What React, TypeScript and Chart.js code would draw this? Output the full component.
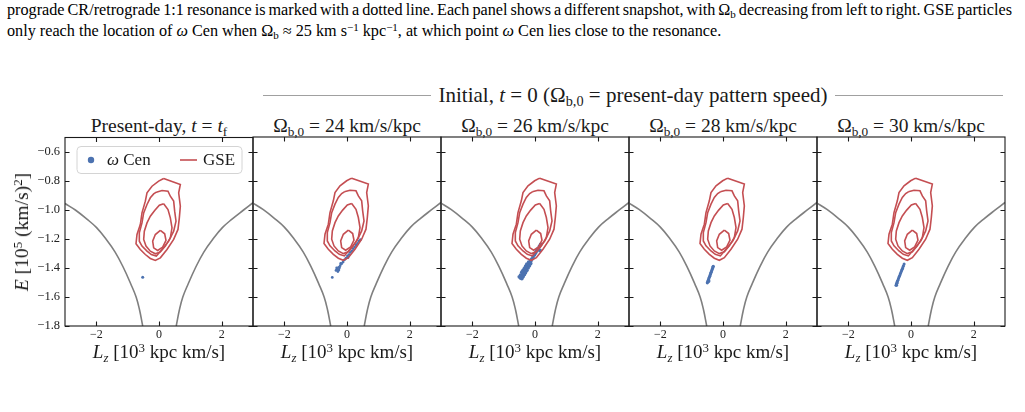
import React, { useEffect, useRef } from "react";
import { Chart, registerables } from "chart.js";

Chart.register(...registerables);

type Pt = [number, number];

// ---- axis limits and ticks ----
const LZ_MIN = -3;
const LZ_MAX = 3;
const E_MIN = -1.8;
const E_MAX = -0.5;
const LZ_TICKS = [-2, 0, 2];
const E_TICKS = [-1.8, -1.6, -1.4, -1.2, -1.0, -0.8, -0.6];

// ---- resonance curves (Lz, E) ----
const resonanceRetro: Pt[] = [
  [-3.0, -0.955], [-2.67, -1.0], [-2.3, -1.063], [-2.0, -1.12], [-1.71, -1.195],
  [-1.4, -1.29], [-1.13, -1.4], [-0.9, -1.51], [-0.73, -1.6], [-0.62, -1.69], [-0.52, -1.8],
];
const resonancePro: Pt[] = [
  [0.55, -1.8], [0.65, -1.69], [0.76, -1.6], [0.93, -1.51], [1.16, -1.4], [1.43, -1.29],
  [1.74, -1.195], [2.03, -1.12], [2.33, -1.063], [2.7, -1.0], [3.0, -0.95],
];

// ---- GSE density contours (Lz, E) ----
const gseOuter: Pt[] = [
  [0.149, -0.783], [0.681, -0.824], [0.628, -0.882], [0.681, -0.974], [0.649, -1.054],
  [0.606, -1.134], [0.468, -1.203], [0.255, -1.272], [0.043, -1.33], [-0.117, -1.348],
  [-0.277, -1.334], [-0.436, -1.307], [-0.596, -1.272], [-0.734, -1.233], [-0.702, -1.169],
  [-0.596, -1.1], [-0.543, -1.02], [-0.436, -0.939], [-0.383, -0.882], [-0.223, -0.836],
  [-0.011, -0.801], [0.149, -0.783],
];
const gseMid: Pt[] = [
  [-0.085, -0.877], [0.096, -0.866], [0.287, -0.87], [0.362, -0.905], [0.468, -0.939],
  [0.5, -1.008], [0.543, -1.077], [0.468, -1.146], [0.309, -1.215], [0.096, -1.272],
  [-0.085, -1.318], [-0.245, -1.307], [-0.383, -1.284], [-0.543, -1.249], [-0.628, -1.215],
  [-0.628, -1.157], [-0.543, -1.089], [-0.489, -1.02], [-0.383, -0.962], [-0.277, -0.916],
  [-0.17, -0.889], [-0.085, -0.877],
];
const gseInner: Pt[] = [
  [0.149, -0.957], [0.287, -0.997], [0.362, -1.054], [0.415, -1.123], [0.362, -1.192],
  [0.202, -1.249], [0.043, -1.289], [-0.117, -1.302], [-0.277, -1.284], [-0.415, -1.249],
  [-0.489, -1.203], [-0.468, -1.146], [-0.383, -1.089], [-0.277, -1.043], [-0.138, -1.003],
  [0.011, -0.967], [0.149, -0.957],
];
const gseCore: Pt[] = [
  [0.043, -1.141], [0.181, -1.164], [0.223, -1.21], [0.117, -1.256], [-0.043, -1.279],
  [-0.17, -1.261], [-0.202, -1.215], [-0.117, -1.169], [0.043, -1.141],
];

// ---- omega Cen particles per snapshot (Lz, E) ----
const omegaCenPresent: Pt[] = [[-0.52, -1.463]];
const omegaCenB24: Pt[] = [
  [-0.47, -1.466], [-0.35, -1.418], [-0.29, -1.425], [-0.26, -1.414], [-0.33, -1.401],
  [-0.31, -1.41], [-0.264, -1.397], [-0.218, -1.385], [-0.171, -1.371], [-0.125, -1.36],
  [-0.079, -1.345], [-0.033, -1.334], [0.014, -1.319], [0.06, -1.309], [0.106, -1.294],
  [0.153, -1.283], [0.199, -1.268], [0.245, -1.257], [0.291, -1.242], [0.338, -1.232],
  [0.384, -1.217], [0.43, -1.206], [-0.24, -1.4], [-0.2, -1.37], [0.03, -1.33],
];
const omegaCenB26: Pt[] = [
  [-0.46, -1.469], [-0.42, -1.455], [-0.383, -1.441], [-0.345, -1.428], [-0.3, -1.412],
  [-0.262, -1.398], [-0.223, -1.384], [-0.178, -1.368], [-0.14, -1.354], [-0.102, -1.34],
  [-0.063, -1.326], [-0.018, -1.31], [0.02, -1.296], [0.058, -1.283], [0.097, -1.269],
  [0.142, -1.253], [0.18, -1.239],
  [-0.5, -1.462], [-0.42, -1.474], [-0.46, -1.45], [-0.38, -1.46], [-0.42, -1.43],
  [-0.34, -1.445], [-0.385, -1.42], [-0.305, -1.432], [-0.34, -1.405], [-0.26, -1.417],
  [-0.3, -1.39], [-0.22, -1.4], [-0.26, -1.375], [-0.18, -1.385], [-0.14, -1.37],
  [-0.2, -1.36], [0.16, -1.28],
];
const omegaCenB28: Pt[] = [
  [-0.5, -1.503], [-0.485, -1.494], [-0.47, -1.485], [-0.455, -1.476], [-0.44, -1.467],
  [-0.425, -1.458], [-0.41, -1.449], [-0.395, -1.44], [-0.38, -1.431], [-0.365, -1.422],
  [-0.35, -1.413], [-0.335, -1.404], [-0.32, -1.395], [-0.31, -1.389], [-0.47, -1.495],
  [-0.45, -1.49],
];
const omegaCenB30: Pt[] = [
  [-0.48, -1.519], [-0.465, -1.51], [-0.45, -1.502], [-0.435, -1.493], [-0.42, -1.485],
  [-0.405, -1.477], [-0.39, -1.468], [-0.375, -1.46], [-0.36, -1.452], [-0.345, -1.443],
  [-0.33, -1.435], [-0.315, -1.427], [-0.3, -1.418], [-0.285, -1.41], [-0.27, -1.402],
  [-0.255, -1.393], [-0.24, -1.385], [-0.22, -1.374], [-0.46, -1.52], [-0.44, -1.505],
];

// pattern speeds of the initial-condition panels (km/s/kpc)
const patternSpeeds = [24, 26, 28, 30];
const omegaSnapshots: Pt[][] = [omegaCenPresent, omegaCenB24, omegaCenB26, omegaCenB28, omegaCenB30];
const omegaRadius = [1.5, 1.4, 1.9, 1.6, 1.5];

// ---- colours ----
const GSE_RED = "#c44e52";
const CEN_BLUE = "#4c72b0";
const RES_GREY = "#7f7f7f";

// ---- figure geometry ----
const PANEL_X = [65, 253, 441, 629, 817, 1005];
const AREA_TOP = 137;
const AREA_BOTTOM = 326;
const PAD_TOP = 12;
const X_AXIS_H = 20;
const SERIF = '"Liberation Serif", "Times New Roman", serif';

const toXY = (pts: Pt[]) => pts.map(([x, y]) => ({ x, y }));
const minus = (s: string) => s.replace("-", "\u2212");

const frameTicks = {
  id: "frameTicks",
  afterDatasetsDraw(chart: any) {
    const { ctx, chartArea: a, scales } = chart;
    const sx = scales.x;
    const sy = scales.y;
    const len = 4.5;
    ctx.save();
    ctx.strokeStyle = "#1a1a1a";
    ctx.lineWidth = 1.1;
    ctx.strokeRect(a.left, a.top, a.right - a.left, a.bottom - a.top);
    ctx.beginPath();
    for (const v of LZ_TICKS) {
      const px = Math.round(sx.getPixelForValue(v)) + 0.5;
      ctx.moveTo(px, a.bottom);
      ctx.lineTo(px, a.bottom - len);
      ctx.moveTo(px, a.top);
      ctx.lineTo(px, a.top + len);
    }
    for (const v of E_TICKS) {
      const py = Math.round(sy.getPixelForValue(v)) + 0.5;
      ctx.moveTo(a.left, py);
      ctx.lineTo(a.left + len, py);
      ctx.moveTo(a.right, py);
      ctx.lineTo(a.right - len, py);
    }
    ctx.stroke();
    ctx.restore();
  },
};

const legendBox = {
  id: "legendBox",
  afterDraw(chart: any) {
    const { ctx, chartArea: a } = chart;
    const L = a.left + 12;
    const T = a.top + 9;
    const W = 165;
    const H = 27;
    const cy = T + H / 2;
    ctx.save();
    ctx.beginPath();
    ctx.roundRect(L, T, W, H, 4);
    ctx.fillStyle = "rgba(255,255,255,0.85)";
    ctx.fill();
    ctx.strokeStyle = "#d4d4d4";
    ctx.lineWidth = 1;
    ctx.stroke();

    ctx.beginPath();
    ctx.arc(L + 14, cy, 3.2, 0, Math.PI * 2);
    ctx.fillStyle = CEN_BLUE;
    ctx.fill();

    ctx.fillStyle = "#1a1a1a";
    ctx.textBaseline = "middle";
    ctx.font = `italic 17px ${SERIF}`;
    ctx.fillText("\u03c9", L + 30, cy + 1);
    const w = ctx.measureText("\u03c9").width;
    ctx.font = `17px ${SERIF}`;
    ctx.fillText(" Cen", L + 30 + w, cy + 1);

    ctx.beginPath();
    ctx.moveTo(L + 103, cy);
    ctx.lineTo(L + 120, cy);
    ctx.strokeStyle = GSE_RED;
    ctx.lineWidth = 1.6;
    ctx.stroke();
    ctx.fillText("GSE", L + 126, cy + 1);
    ctx.restore();
  },
};

function Panel({ index }: { index: number }) {
  const ref = useRef<HTMLCanvasElement | null>(null);
  const first = index === 0;
  const left = first ? 0 : PANEL_X[index] - 4;
  const width = first ? PANEL_X[1] + 4 : PANEL_X[index + 1] - PANEL_X[index] + 8;
  const top = AREA_TOP - PAD_TOP;
  const height = PAD_TOP + (AREA_BOTTOM - AREA_TOP) + X_AXIS_H;

  useEffect(() => {
    const line = (pts: Pt[], color: string, lw: number, tension = 0) => ({
      data: toXY(pts),
      showLine: true,
      borderColor: color,
      borderWidth: lw,
      pointRadius: 0,
      fill: false,
      tension,
    });
    const chart = new Chart(ref.current as HTMLCanvasElement, {
      type: "scatter",
      data: {
        datasets: [
          line(resonanceRetro, RES_GREY, 1.6, 0.4),
          line(resonancePro, RES_GREY, 1.6, 0.4),
          line(gseOuter, GSE_RED, 1.6),
          line(gseMid, GSE_RED, 1.6),
          line(gseInner, GSE_RED, 1.6),
          line(gseCore, GSE_RED, 1.6),
          {
            data: toXY(omegaSnapshots[index]),
            backgroundColor: CEN_BLUE,
            borderWidth: 0,
            pointRadius: omegaRadius[index],
          },
        ] as any,
      },
      options: {
        animation: false,
        responsive: false,
        devicePixelRatio: 1,
        layout: { padding: { top: PAD_TOP, bottom: 0, left: first ? 0 : 4, right: 4 } },
        plugins: { legend: { display: false }, tooltip: { enabled: false }, title: { display: false } },
        scales: {
          x: {
            type: "linear",
            min: LZ_MIN,
            max: LZ_MAX,
            grid: { display: false, drawTicks: false },
            border: { display: false },
            afterBuildTicks: (s: any) => {
              s.ticks = LZ_TICKS.map((v) => ({ value: v }));
            },
            afterFit: (s: any) => {
              s.height = X_AXIS_H;
            },
            ticks: {
              padding: 2,
              color: "#222",
              font: { family: SERIF, size: 12 },
              callback: (v: any) => minus(String(v)),
            },
          },
          y: {
            type: "linear",
            min: E_MIN,
            max: E_MAX,
            display: first,
            grid: { display: false, drawTicks: false },
            border: { display: false },
            afterBuildTicks: (s: any) => {
              s.ticks = E_TICKS.map((v) => ({ value: v }));
            },
            afterFit: (s: any) => {
              s.width = first ? PANEL_X[0] : 0;
            },
            ticks: {
              padding: 5,
              color: "#222",
              font: { family: SERIF, size: 12.5 },
              callback: (v: any) => minus(Number(v).toFixed(1)),
            },
          },
        },
      } as any,
      plugins: first ? [frameTicks, legendBox] : [frameTicks],
    });
    return () => chart.destroy();
  }, [index]);

  return (
    <canvas
      ref={ref}
      width={width}
      height={height}
      style={{ position: "absolute", left, top, width, height, display: "block" }}
    />
  );
}

const subStyle: React.CSSProperties = { fontSize: "0.68em", verticalAlign: "-0.28em", lineHeight: 0 };
const supStyle: React.CSSProperties = { fontSize: "0.68em", verticalAlign: "0.45em", lineHeight: 0 };

function OmegaB0() {
  return (
    <>
      {"\u03a9"}
      <span style={subStyle}>b,0</span>
    </>
  );
}

export default function App() {
  const centers = PANEL_X.slice(0, 5).map((x, i) => (x + PANEL_X[i + 1]) / 2);
  const titleStyle = (cx: number): React.CSSProperties => ({
    position: "absolute",
    left: cx - 110,
    width: 220,
    top: 115,
    textAlign: "center",
    fontSize: 19.5,
    lineHeight: "22px",
    whiteSpace: "nowrap",
  });
  const xLabelStyle = (cx: number): React.CSSProperties => ({
    position: "absolute",
    left: cx - 110,
    width: 220,
    top: 341,
    textAlign: "center",
    fontSize: 19,
    lineHeight: "22px",
    whiteSpace: "nowrap",
  });
  const captionLine: React.CSSProperties = {
    position: "absolute",
    left: 7,
    width: 1005,
    fontSize: 16.2,
    lineHeight: "21px",
    color: "#000",
    whiteSpace: "nowrap",
  };

  return (
    <div
      style={{
        position: "absolute",
        left: 0,
        top: 0,
        width: 1025,
        height: 412,
        background: "#fff",
        fontFamily: SERIF,
        color: "#1a1a1a",
        overflow: "hidden",
      }}
    >
      {/* caption text above the figure */}
      <div style={{ ...captionLine, top: 0, textAlign: "justify", textAlignLast: "justify", wordSpacing: "-1.8px" }}>
        prograde CR/retrograde 1:1 resonance is marked with a dotted line. Each panel shows a different snapshot, with
        {" \u03a9"}
        <span style={subStyle}>b</span> decreasing from left to right. GSE particles
      </div>
      <div style={{ ...captionLine, top: 21 }}>
        only reach the location of <i>{"\u03c9"}</i> Cen when {"\u03a9"}
        <span style={subStyle}>b</span> {"\u2248"} 25 km s<span style={supStyle}>{"\u22121"}</span> kpc
        <span style={supStyle}>{"\u22121"}</span>, at which point <i>{"\u03c9"}</i> Cen lies close to the resonance.
      </div>

      {/* group heading over the initial-condition panels */}
      <div style={{ position: "absolute", left: 263, width: 168, top: 95, height: 1, background: "#a0a0a0" }} />
      <div style={{ position: "absolute", left: 835, width: 168, top: 95, height: 1, background: "#a0a0a0" }} />
      <div
        style={{
          position: "absolute",
          left: 432,
          width: 402,
          top: 84,
          textAlign: "center",
          fontSize: 21,
          lineHeight: "22px",
          whiteSpace: "nowrap",
        }}
      >
        Initial, <i>t</i> = 0 (<OmegaB0 /> = present-day pattern speed)
      </div>

      {/* panel titles */}
      <div style={titleStyle(centers[0])}>
        Present-day, <i>t</i> = <i>t</i>
        <span style={subStyle}>f</span>
      </div>
      {patternSpeeds.map((s, i) => (
        <div key={s} style={titleStyle(centers[i + 1])}>
          <OmegaB0 /> = {s} km/s/kpc
        </div>
      ))}

      {/* panels */}
      {[0, 1, 2, 3, 4].map((i) => (
        <Panel key={i} index={i} />
      ))}

      {/* axis labels */}
      {centers.map((cx, i) => (
        <div key={i} style={xLabelStyle(cx)}>
          <i>L</i>
          <span style={subStyle}>
            <i>z</i>
          </span>{" "}
          [10<span style={supStyle}>3</span> kpc km/s]
        </div>
      ))}
      <div
        style={{
          position: "absolute",
          left: 22,
          top: 232,
          transform: "translate(-50%, -50%) rotate(-90deg)",
          fontSize: 19.5,
          lineHeight: "22px",
          whiteSpace: "nowrap",
        }}
      >
        <i>E</i> [10<span style={supStyle}>5</span> (km/s)<span style={supStyle}>2</span>]
      </div>
    </div>
  );
}
